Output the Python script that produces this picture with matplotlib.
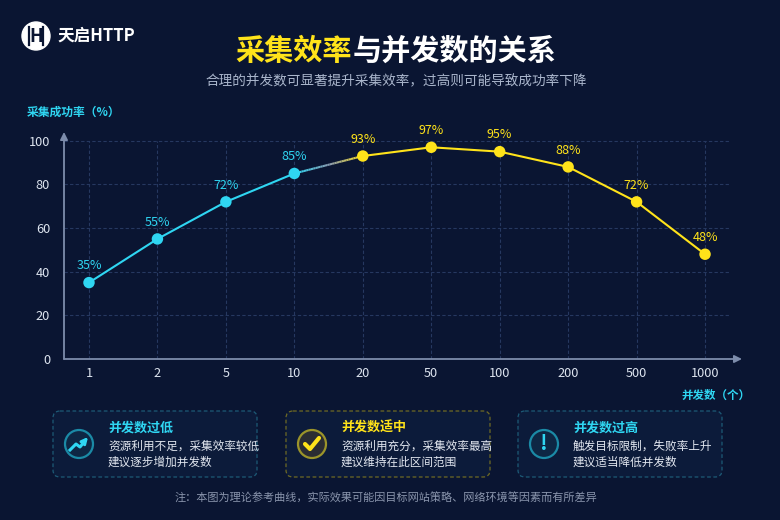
import numpy as np
import matplotlib
matplotlib.use("Agg")
import matplotlib.pyplot as plt
from matplotlib.collections import LineCollection
from matplotlib.patches import FancyBboxPatch, Circle
from matplotlib.colors import to_rgb

plt.rcParams['font.family'] = ['Noto Sans CJK SC', 'DejaVu Sans']

# data
concurrency = ['1', '2', '5', '10', '20', '50', '100', '200', '500', '1000']
success_rate = [35, 55, 72, 85, 93, 97, 95, 88, 72, 48]
n_low = 4  # points drawn in the "ramp up" colour

card_titles = ['并发数过低', '并发数适中', '并发数过高']
card_lines = [
    ['资源利用不足，采集效率较低', '建议逐步增加并发数'],
    ['资源利用充分，采集效率最高', '建议维持在此区间范围'],
    ['触发目标限制，失败率上升', '建议适当降低并发数'],
]

BG = '#0a1532'
CYAN = '#2fd6f2'
YELLOW = '#ffe31a'
AXIS = '#7d8cab'
GRID = '#263860'
TICK = '#dde4ef'

W, H = 780, 520
fig = plt.figure(figsize=(W / 100, H / 100), dpi=100, facecolor=BG)

# pixel-space overlay for decorations
bg = fig.add_axes([0, 0, 1, 1], zorder=0)
bg.set_xlim(0, W)
bg.set_ylim(H, 0)
bg.axis('off')
bg.set_facecolor(BG)

# logo
bg.add_patch(Circle((36, 36), 14, color='white'))
bg.text(36, 36.5, 'H', color=BG, fontsize=13, fontweight='bold', ha='center', va='center')
bg.plot([29, 29], [27, 45], color=BG, lw=1.6)
bg.plot([43, 43], [27, 45], color=BG, lw=1.6)
bg.text(57, 36, '天启HTTP', color='white', fontsize=12, fontweight='bold', ha='left', va='center')

# title (4 yellow chars + 7 white chars, CJK glyphs are 1em wide)
fs_title = 21
em = fs_title * 100 / 72
cx = 396
left = cx - 11 * em / 2
split = left + 4 * em
bg.text(split, 51, '采集效率', color=YELLOW, fontsize=fs_title, fontweight='bold', ha='right', va='center')
bg.text(split, 51, '与并发数的关系', color='white', fontsize=fs_title, fontweight='bold', ha='left', va='center')
bg.text(cx, 81, '合理的并发数可显著提升采集效率，过高则可能导致成功率下降',
        color='#aab6cc', fontsize=9.8, ha='center', va='center')

bg.text(27, 112, '采集成功率（%）', color=CYAN, fontsize=8.5, fontweight='bold', ha='left', va='center')
bg.text(751, 395, '并发数（个）', color=CYAN, fontsize=8.3, fontweight='bold', ha='right', va='center')

# main chart
ax = fig.add_axes([64 / W, 1 - 359 / H, (742 - 64) / W, (359 - 132) / H], zorder=1)
ax.set_facecolor('none')
x = np.arange(len(concurrency))
ax.set_xlim(-0.365, 9.54)
ax.set_ylim(0, 104)
for s in ax.spines.values():
    s.set_visible(False)

yt = [0, 20, 40, 60, 80, 100]
ax.hlines(yt[1:], -0.365, 9.35, colors=GRID, linestyles=(0, (3, 2)), lw=0.8, zorder=1)
ax.vlines(x, 0, 100, colors=GRID, linestyles=(0, (3, 2)), lw=0.8, zorder=1)
ax.set_xticks(x)
ax.set_xticklabels(concurrency)
ax.set_yticks(yt)
ax.tick_params(axis='both', length=0, colors=TICK, labelsize=9.2)
ax.tick_params(axis='y', pad=10)
ax.tick_params(axis='x', pad=6)

ax.annotate('', xy=(0, 1.0), xytext=(0, 0), xycoords='axes fraction',
            arrowprops=dict(arrowstyle='-|>', color=AXIS, lw=1.3, mutation_scale=11, shrinkA=0, shrinkB=0))
ax.annotate('', xy=(1.0, 0), xytext=(0, 0), xycoords='axes fraction',
            arrowprops=dict(arrowstyle='-|>', color=AXIS, lw=1.3, mutation_scale=11, shrinkA=0, shrinkB=0))

y = np.array(success_rate, dtype=float)
ax.plot(x[:n_low], y[:n_low], color=CYAN, lw=1.5, zorder=3, solid_capstyle='round')
ax.plot(x[n_low:], y[n_low:], color=YELLOW, lw=1.5, zorder=3, solid_capstyle='round')

# colour blend on the connecting segment
t = np.linspace(0, 1, 30)
sx = x[n_low - 1] + t * (x[n_low] - x[n_low - 1])
sy = y[n_low - 1] + t * (y[n_low] - y[n_low - 1])
pts = np.column_stack([sx, sy]).reshape(-1, 1, 2)
segs = np.concatenate([pts[:-1], pts[1:]], axis=1)
c0, cm, c1 = np.array(to_rgb(CYAN)), np.array(to_rgb('#8a9ab0')), np.array(to_rgb(YELLOW))
cols = [c0 + (cm - c0) * (2 * u) if u < 0.5 else cm + (c1 - cm) * (2 * u - 1) for u in t[:-1]]
ax.add_collection(LineCollection(segs, colors=cols, lw=1.5, zorder=3))

colors = [CYAN if i < n_low else YELLOW for i in range(len(x))]
ax.scatter(x, y, s=68, c=colors, zorder=4, edgecolors='none')
for xi, yi, c in zip(x, y, colors):
    ax.annotate(f'{int(yi)}%', (xi, yi), xytext=(0, 12), textcoords='offset points',
                ha='center', va='center', color=c, fontsize=9, zorder=5)

# cards
cards_x = [53, 286, 518]
card_w, card_top, card_h = 204, 411, 66
edge_cols = ['#1d5a76', '#6e6a24', '#1d5a76']
title_cols = [CYAN, YELLOW, CYAN]
for i, x0 in enumerate(cards_x):
    bg.add_patch(FancyBboxPatch((x0, card_top), card_w, card_h,
                                boxstyle='round,pad=0,rounding_size=7',
                                fc='#0c1b3a', ec=edge_cols[i], lw=0.9, ls=(0, (3, 2))))
    icx, icy = x0 + 26, card_top + 33
    if i == 1:
        bg.add_patch(Circle((icx, icy), 14, fc='#2b2d33', ec='#9b942a', lw=1.6))
        bg.plot([icx - 7, icx - 2, icx + 7], [icy, icy + 5, icy - 6], color=YELLOW, lw=3,
                solid_capstyle='round', solid_joinstyle='round')
    else:
        bg.add_patch(Circle((icx, icy), 14, fc='#0e2744', ec='#1b8aa6', lw=1.6))
        if i == 0:
            bg.plot([icx - 9, icx - 3, icx + 1, icx + 6], [icy + 6, icy, icy + 3, icy - 3],
                    color=CYAN, lw=2.2, solid_joinstyle='round')
            bg.annotate('', xy=(icx + 9, icy - 7), xytext=(icx + 4, icy - 1),
                        arrowprops=dict(arrowstyle='-|>', color=CYAN, lw=2, mutation_scale=9,
                                        shrinkA=0, shrinkB=0))
        else:
            bg.text(icx, icy, '!', color=CYAN, fontsize=15, fontweight='bold',
                    ha='center', va='center')
    tx = x0 + 55
    bg.text(tx, card_top + 17, card_titles[i], color=title_cols[i], fontsize=9.4,
            fontweight='bold', ha='left', va='center')
    for j, line in enumerate(card_lines[i]):
        bg.text(tx, card_top + 35 + 16 * j, line, color='#e2e7f0', fontsize=8.4,
                ha='left', va='center')

bg.text(386, 498, '注：本图为理论参考曲线，实际效果可能因目标网站策略、网络环境等因素而有所差异',
        color='#8a95ad', fontsize=8, ha='center', va='center')

fig.savefig('out.png', dpi=100, facecolor=BG)
